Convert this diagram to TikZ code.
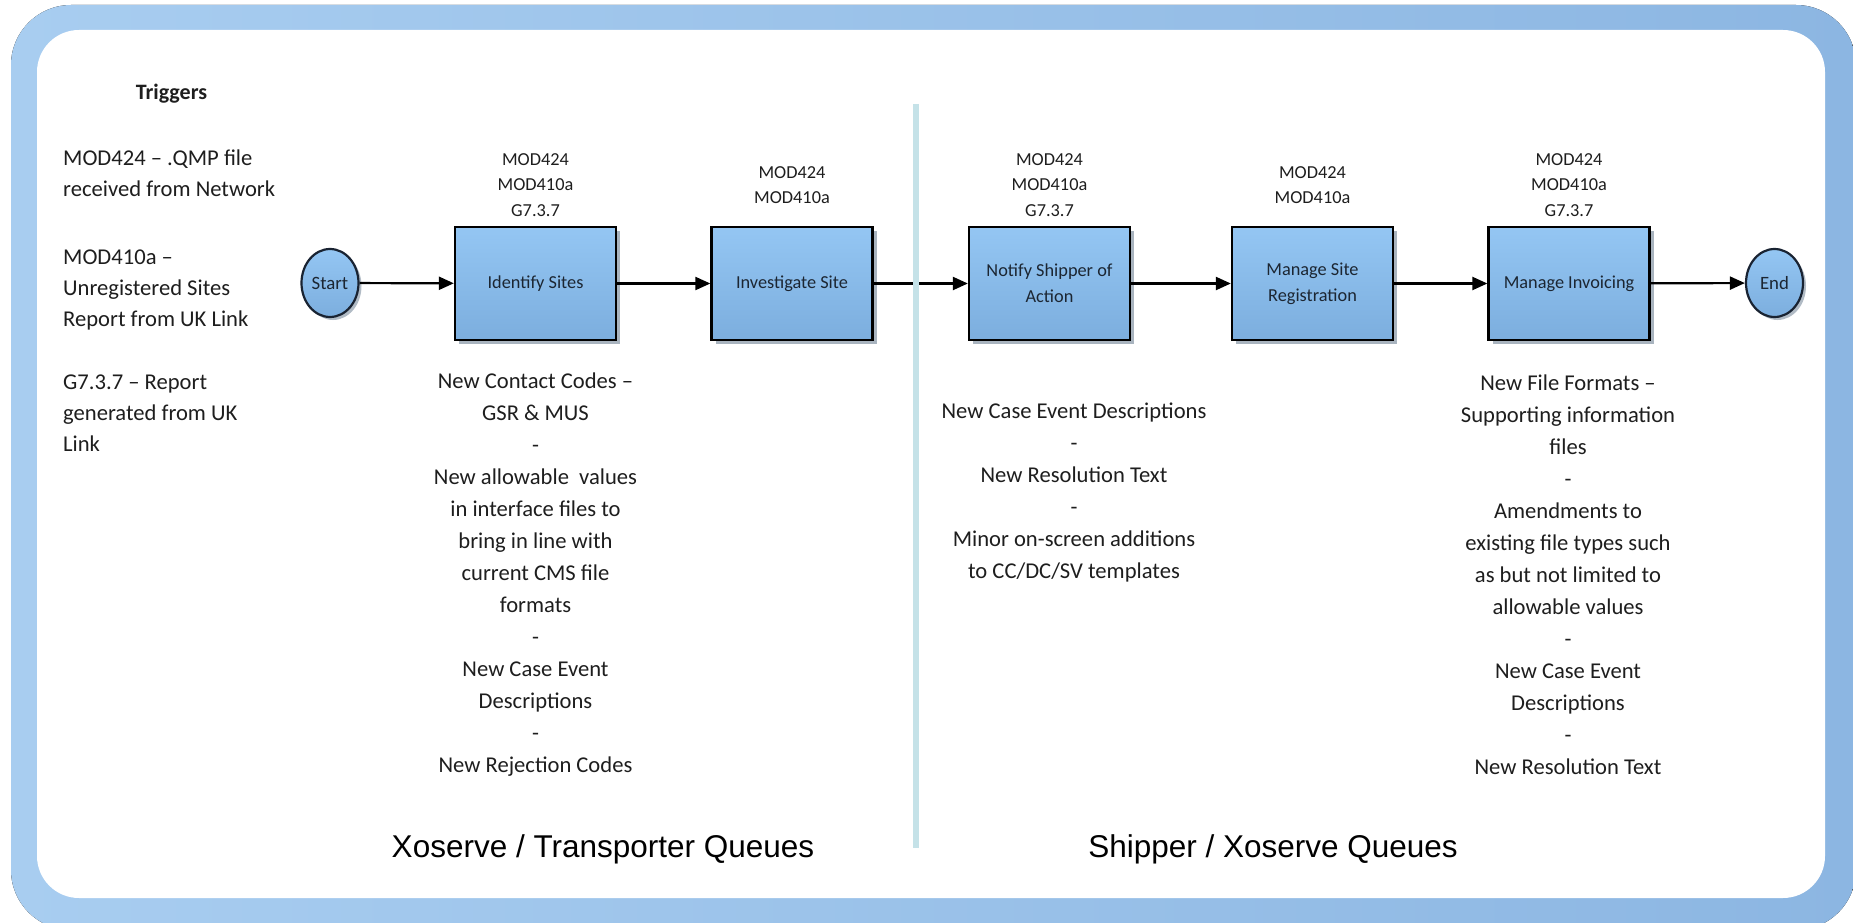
\documentclass[tikz,border=0pt]{standalone}
\usepackage{fontspec}
\setmainfont{Carlito}
\newfontfamily\arialfont{Liberation Sans}
\usetikzlibrary{arrows.meta,shadows,shapes.geometric}
\definecolor{txt}{RGB}{30,30,30}
\definecolor{boxtxt}{RGB}{28,38,50}
\definecolor{frameL}{RGB}{168,205,240}
\definecolor{frameR}{RGB}{140,182,226}
\definecolor{boxtop}{RGB}{148,198,243}
\definecolor{boxbot}{RGB}{124,174,222}
\definecolor{dividerc}{RGB}{197,226,232}
\definecolor{shadowc}{RGB}{100,120,140}
\definecolor{termborder}{RGB}{25,35,50}
\tikzset{
  procbox/.style={draw=black, line width=2.3pt, top color=boxtop, bottom color=boxbot,
    minimum width=161pt, minimum height=113pt, inner sep=2pt, align=center, text=boxtxt,
    font=\fontsize{18.3}{26}\selectfont,
    drop shadow={shadow xshift=4pt, shadow yshift=-4pt, fill=shadowc, opacity=0.55}},
  termnode/.style={ellipse, draw=termborder, line width=2.2pt, top color=boxtop, bottom color=boxbot,
    minimum width=57pt, minimum height=68pt, inner sep=0pt, text=boxtxt,
    font=\fontsize{18.8}{26}\selectfont,
    drop shadow={shadow xshift=3pt, shadow yshift=-3pt, fill=shadowc, opacity=0.5}},
  reflabel/.style={align=center, inner sep=0pt, text=txt, font=\fontsize{18.3}{25.5}\selectfont},
  trigtxt/.style={align=left, anchor=north west, inner sep=0pt, text=txt, font=\fontsize{22.6}{31}\selectfont},
  desctxt/.style={align=center, anchor=north, inner sep=0pt, text=txt, font=\fontsize{22.6}{32}\selectfont},
  queuelabel/.style={anchor=base, inner sep=0pt, text=black, font=\arialfont\fontsize{31.5}{36}\selectfont},
  flowarrow/.style={-{Triangle[length=15pt,width=13pt]}, line width=2.2pt, draw=black},
  dividerline/.style={draw=dividerc, line width=6pt}
}
\begin{document}
\begin{tikzpicture}[x=1pt,y=-1pt]
\useasboundingbox (0,0) rectangle (1853,923);
% frame
\fill[left color=frameL, right color=frameR, rounded corners=60pt] (11,5) rectangle (1856,930);
\fill[white, rounded corners=42pt] (37,30) rectangle (1825,898);

% triggers
\node[anchor=base, inner sep=0pt, text=txt, font=\fontsize{22}{26}\selectfont\bfseries] (trighead) at (171.5,100) {Triggers};
\node[trigtxt] (trig1) at (63,147) {\rule{0pt}{18pt}MOD424 – .QMP file\\received from Network};
\node[trigtxt] (trig2) at (63,246) {\rule{0pt}{18pt}MOD410a –\\Unregistered Sites\\Report from UK Link};
\node[trigtxt] (trig3) at (63,371) {\rule{0pt}{18pt}G7.3.7 – Report\\generated from UK\\Link};

% process nodes
\node[termnode] (start) at (330,283) {Start};
\node[procbox] (identify) at (535.5,283.5) {Identify Sites};
\node[procbox] (investigate) at (792,283.5) {Investigate Site};
\node[procbox] (notify) at (1049.5,283.5) {Notify Shipper of\\Action};
\node[procbox] (register) at (1312.5,283.5) {Manage Site\\Registration};
\node[procbox] (invoice) at (1569,283.5) {Manage Invoicing};
\node[termnode] (finish) at (1774.5,283) {End};

% reference labels
\node[reflabel] (lab1) at (535.5,185) {MOD424\\MOD410a\\G7.3.7};
\node[reflabel] (lab2) at (792,185) {MOD424\\MOD410a};
\node[reflabel] (lab3) at (1049.5,185) {MOD424\\MOD410a\\G7.3.7};
\node[reflabel] (lab4) at (1312.5,185) {MOD424\\MOD410a};
\node[reflabel] (lab5) at (1569,185) {MOD424\\MOD410a\\G7.3.7};

% arrows
\draw[flowarrow] (start) -- (identify);
\draw[flowarrow] (identify) -- (investigate);
\draw[flowarrow] (investigate) -- (notify);
\draw[flowarrow] (notify) -- (register);
\draw[flowarrow] (register) -- (invoice);
\draw[flowarrow] (invoice) -- (finish);

% divider
\coordinate (dtop) at (916,104);
\coordinate (dbot) at (916,848);
\draw[dividerline] (dtop) -- (dbot);

% descriptions
\node[desctxt] (desc1) at (535.5,370) {\rule{0pt}{18pt}New Contact Codes –\\GSR \& MUS\\-\\New allowable\ \ values\\in interface files to\\bring in line with\\current CMS file\\formats\\-\\New Case Event\\Descriptions\\-\\New Rejection Codes};
\node[desctxt] (desc2) at (1074,400) {\rule{0pt}{18pt}New Case Event Descriptions\\-\\New Resolution Text\\-\\Minor on-screen additions\\to CC/DC/SV templates};
\node[desctxt] (desc3) at (1568,372) {\rule{0pt}{18pt}New File Formats –\\Supporting information\\files\\-\\Amendments to\\existing file types such\\as but not limited to\\allowable values\\-\\New Case Event\\Descriptions\\-\\New Resolution Text};

% queue labels
\node[queuelabel] (q1) at (603,857) {Xoserve / Transporter Queues};
\node[queuelabel] (q2) at (1273,857) {Shipper / Xoserve Queues};
\end{tikzpicture}
\end{document}
